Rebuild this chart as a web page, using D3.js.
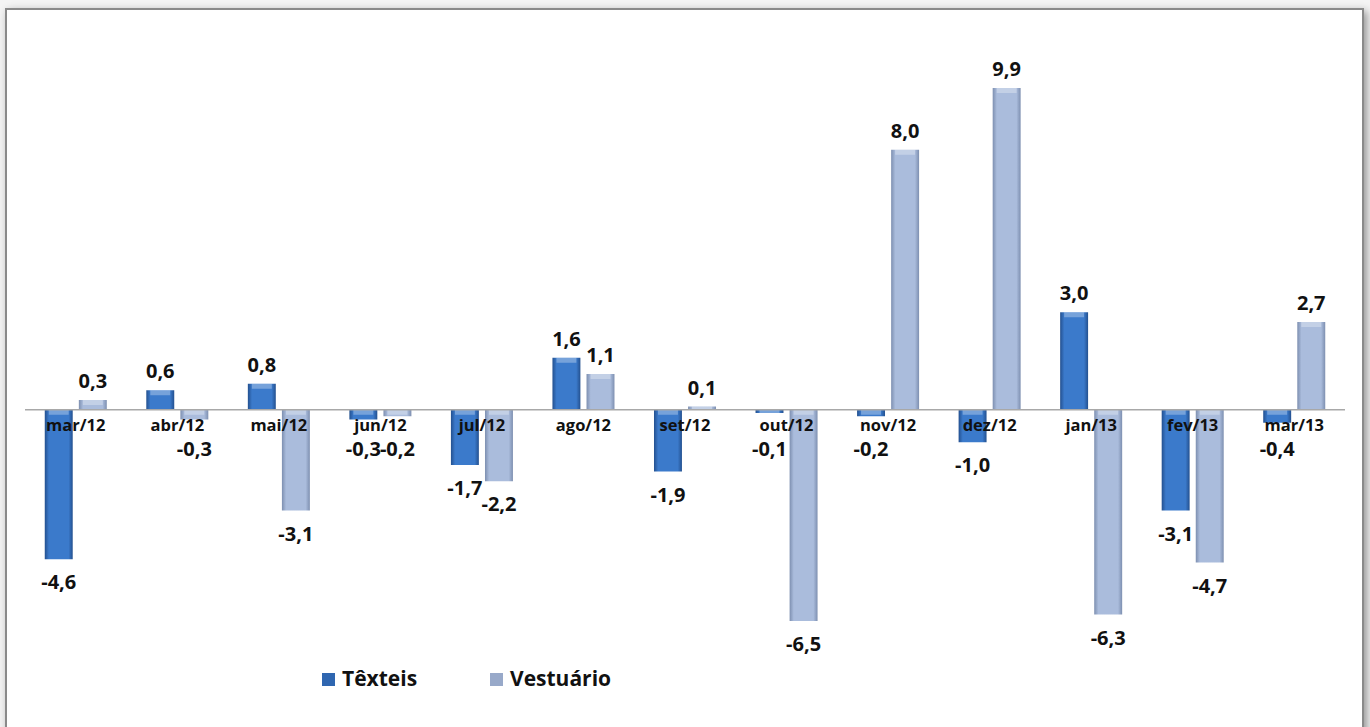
<!DOCTYPE html>
<html>
<head>
<meta charset="utf-8">
<script src="https://cdn.jsdelivr.net/npm/d3@7"></script>
<style>
  body { margin: 0; background: #f4f4f4; }
  text { font-family: "Open Sans", "DejaVu Sans", sans-serif; font-weight: bold; fill: #111; }
</style>
</head>
<body>
<div id="chart"></div>
<script>
const months = ["mar/12", "abr/12", "mai/12", "jun/12", "jul/12", "ago/12", "set/12",
                "out/12", "nov/12", "dez/12", "jan/13", "fev/13", "mar/13"];
const texteis = [-4.6, 0.6, 0.8, -0.3, -1.7, 1.6, -1.9, -0.1, -0.2, -1.0, 3.0, -3.1, -0.4];
const vestuario = [0.3, -0.3, -3.1, -0.2, -2.2, 1.1, 0.1, -6.5, 8.0, 9.9, -6.3, -4.7, 2.7];
const seriesNames = ["Têxteis", "Vestuário"];

const width = 1370, height = 727;
const svg = d3.select("#chart").append("svg")
    .attr("width", width).attr("height", height);

const defs = svg.append("defs");
const shadow = defs.append("filter").attr("id", "shadow")
    .attr("x", "-5%").attr("y", "-5%").attr("width", "110%").attr("height", "110%");
shadow.append("feDropShadow").attr("dx", 3).attr("dy", 3).attr("stdDeviation", 4)
    .attr("flood-color", "#000").attr("flood-opacity", 0.4);

function bevel(id, edge, mid) {
    const g = defs.append("linearGradient").attr("id", id)
        .attr("x1", "0%").attr("x2", "100%").attr("y1", "0%").attr("y2", "0%");
    g.append("stop").attr("offset", "0%").attr("stop-color", edge);
    g.append("stop").attr("offset", "15%").attr("stop-color", mid);
    g.append("stop").attr("offset", "85%").attr("stop-color", mid);
    g.append("stop").attr("offset", "100%").attr("stop-color", edge);
}
bevel("gT", "#23508f", "#3b7acb");
bevel("gV", "#7d8fb0", "#aabcdc");
const colors = ["url(#gT)", "url(#gV)"];
const legendColors = ["#2f66b0", "#98a9c9"];

// frame
svg.append("rect")
    .attr("x", 6).attr("y", 9).attr("width", 1357).attr("height", 740)
    .attr("fill", "#fff").attr("stroke", "#8a8a8a").attr("stroke-width", 2)
    .attr("filter", "url(#shadow)");

const x = d3.scaleBand().domain(months).range([25, 1345]).paddingInner(0).paddingOuter(0);
const xs = d3.scaleBand().domain(seriesNames).range([0, x.bandwidth()])
    .paddingInner(0.18).paddingOuter(0.58);
const y = d3.scaleLinear().domain([-6.5, 9.9]).range([621, 88]);

const rows = months.map((m, i) => ({ month: m, vals: [texteis[i], vestuario[i]] }));

const groups = svg.selectAll(".grp").data(rows).enter().append("g")
    .attr("transform", d => `translate(${x(d.month)},0)`);

groups.selectAll("rect.bar")
    .data(d => d.vals.map((v, k) => ({ v, k })))
    .enter().append("rect")
    .attr("class", "bar")
    .attr("x", d => xs(seriesNames[d.k]))
    .attr("width", xs.bandwidth())
    .attr("y", d => y(Math.max(0, d.v)))
    .attr("height", d => Math.abs(y(d.v) - y(0)))
    .attr("fill", d => colors[d.k]);

// top highlight strip on bars
groups.selectAll("rect.hl")
    .data(d => d.vals.map((v, k) => ({ v, k })))
    .enter().append("rect")
    .attr("x", d => xs(seriesNames[d.k]) + 4)
    .attr("width", xs.bandwidth() - 8)
    .attr("y", d => y(Math.max(0, d.v)))
    .attr("height", d => Math.min(5, Math.abs(y(d.v) - y(0))))
    .attr("fill", "#fff").attr("opacity", 0.3);

// zero line
svg.append("line")
    .attr("x1", 25).attr("x2", 1345)
    .attr("y1", y(0)).attr("y2", y(0))
    .attr("stroke", "#a8a8a8").attr("stroke-width", 1.5);

// category labels
const xAxis = d3.axisBottom(x).tickSize(0).tickPadding(0);
const ax = svg.append("g").attr("transform", `translate(0,${y(0) + 10})`).call(xAxis);
ax.select(".domain").remove();
ax.selectAll("text").attr("font-size", 16.5).attr("dy", "0.71em")
    .style("font-family", "\"Open Sans\", sans-serif").style("font-weight", "bold").attr("fill", "#111");

// value labels
const fmt = v => d3.format(".1f")(v).replace(".", ",").replace("−", "-");
groups.selectAll("text.val")
    .data(d => d.vals.map((v, k) => ({ v, k })))
    .enter().append("text")
    .attr("class", "val")
    .attr("text-anchor", "middle")
    .attr("font-size", 20)
    .attr("x", d => xs(seriesNames[d.k]) + xs.bandwidth() / 2)
    .attr("y", d => d.v >= 0 ? y(d.v) - 12 : Math.max(y(d.v) + 30, y(0) + 46))
    .text(d => fmt(d.v));

// legend
const legend = svg.append("g").attr("transform", "translate(322,679)");
const lx = [0, 168];
seriesNames.forEach((s, k) => {
    const g = legend.append("g").attr("transform", `translate(${lx[k]},0)`);
    g.append("rect").attr("x", 0).attr("y", -6).attr("width", 13).attr("height", 13)
        .attr("fill", legendColors[k]);
    g.append("text").attr("x", 20).attr("y", 7).attr("font-size", 21).text(s);
});
</script>
</body>
</html>
